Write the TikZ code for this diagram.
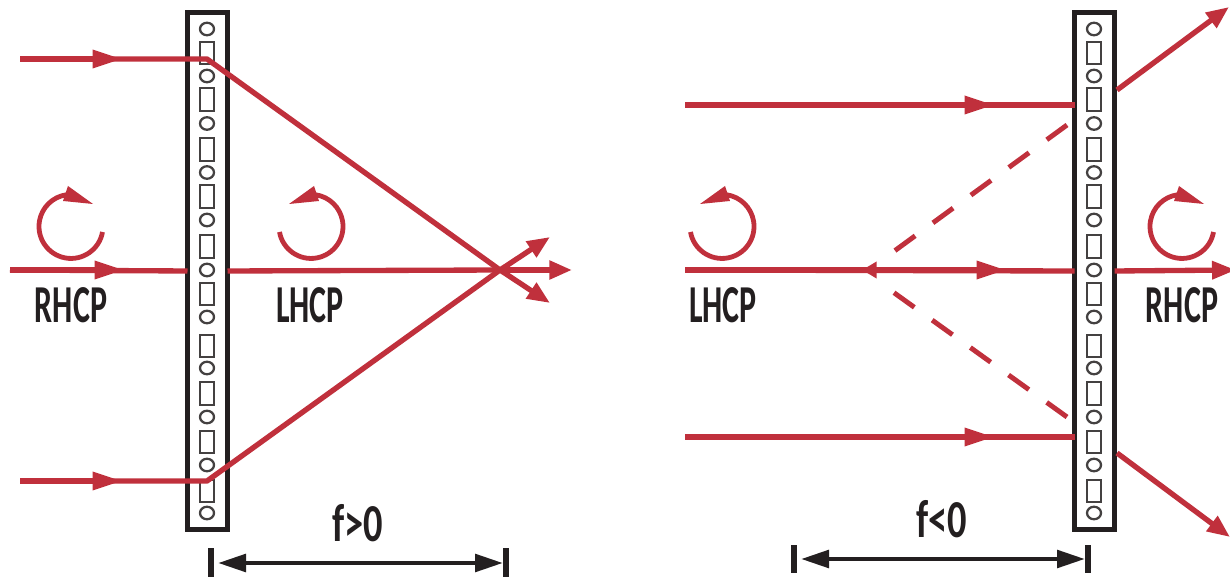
\documentclass[tikz,border=0pt]{standalone}
\usepackage{fontspec}
\setmainfont{Carlito}
\usetikzlibrary{arrows.meta,shapes.geometric}
\definecolor{rayred}{HTML}{C0303C}
\definecolor{ink}{HTML}{231F20}
\tikzset{
 ray/.style={draw=rayred,line width=4pt},
 thinray/.style={draw=rayred,line width=4pt},
 dashray/.style={draw=rayred,line width=3.7pt,dash pattern=on 18.75pt off 16.5pt},
 midtip/.style={-{Triangle[length=22pt,width=13pt,fill=rayred]}},
 smalltip/.style={-{Triangle[length=17pt,width=13.5pt,fill=rayred]}},
 plate/.style={draw=ink,line width=4pt,fill=white,rectangle,minimum width=30pt,minimum height=387.75pt,inner sep=0pt,outer sep=0pt},
 ringcell/.style={draw=ink!85,line width=1.7pt,ellipse,minimum width=10.5pt,minimum height=9.4pt,inner sep=0pt},
 barcell/.style={draw=ink!85,line width=1.7pt,rectangle,minimum width=10pt,minimum height=17pt,inner sep=0pt},
 spin/.style={draw=rayred,line width=3.6pt},
 spinhead/.style={fill=rayred,draw=none},
 hand/.style={text=ink,font=\bfseries\fontsize{40}{40}\selectfont,anchor=base,inner sep=0pt},
 dim/.style={draw=ink,line width=3.4pt,{Triangle[length=21pt,width=13pt,fill=ink]}-{Triangle[length=21pt,width=13pt,fill=ink]}},
 tick/.style={draw=ink,line width=4pt},
}
\newcommand{\hcp}[1]{\scalebox{0.6}[1]{#1}}
\newcommand{\flab}[1]{\scalebox{0.72}[1]{#1}}
\begin{document}
\begin{tikzpicture}[x=0.75pt,y=-0.75pt]
\useasboundingbox (0,0) rectangle (1230,580);
% ---- left lens
\coordinate (Lfocus) at (500,270);
\coordinate (Lin1) at (20,59);
\coordinate (Lin1t) at (122,59);
\coordinate (Lk1) at (207,59);
\coordinate (Lin2) at (10,270);
\coordinate (Lin2t) at (124,270);
\coordinate (Lin3) at (20,481);
\coordinate (Lin3t) at (122,481);
\coordinate (Lk3) at (207,481);
\coordinate (Lout) at (572,270);
\coordinate (Lup) at (550,237);
\coordinate (Ldn) at (550,303);
\node[plate] (pL) at (207.5,271) {};
\node[plate] (pR) at (1094.5,271) {};
\draw[ray] (Lin2) -- (pL.west);
\draw[ray] (pL.east) -- (Lfocus);
\draw[thinray,midtip] (Lin2) -- (Lin2t);
\foreach \n/\x in {L/207,R/1094}{
 \foreach \i/\y in {1/29,2/76,3/123.5,4/172.5,5/220,6/270,7/317,8/368,9/417,10/465,11/513}
  \node[ringcell] (\n c\i) at (\x,\y) {};
 \foreach \i/\y in {1/53,2/99.5,3/149.5,4/196.5,5/246.5,6/294,7/346,8/393.5,9/442,10/491}
  \node[barcell] (\n b\i) at (\x,\y) {};
}
\draw[ray,line join=round] (Lin1) -- (Lk1) -- (Lfocus);
\draw[ray,line join=round] (Lin3) -- (Lk3) -- (Lfocus);
\draw[thinray,midtip] (Lin1) -- (Lin1t);
\draw[thinray,midtip] (Lin3) -- (Lin3t);
\draw[thinray,smalltip] (Lfocus) -- (Lout);
\draw[thinray,smalltip] (Lfocus) -- (Lup);
\draw[thinray,smalltip] (Lfocus) -- (Ldn);
% spins left
\draw[spin] (102.5,232) arc[start angle=10,end angle=262,radius=32];
\fill[spinhead] (68,186) -- (93,204) -- (63,201) -- cycle;
\draw[spin] (279.5,232) arc[start angle=170,end angle=-82,radius=32];
\fill[spinhead] (314,186) -- (289,204) -- (319,201) -- cycle;
\node[hand] (tRHCPl) at (71,323) {\hcp{RHCP}};
\node[hand] (tLHCPl) at (310,323) {\hcp{LHCP}};
% dimension left
\coordinate (dL1a) at (211,548); \coordinate (dL1b) at (211,577);
\coordinate (dL2a) at (506,548); \coordinate (dL2b) at (506,577);
\coordinate (dLa) at (218,563); \coordinate (dLb) at (503,563);
\draw[tick] (dL1a) -- (dL1b);
\draw[tick] (dL2a) -- (dL2b);
\draw[dim] (dLa) -- (dLb);
\node[hand] (tfp) at (358,541) {\flab{f>0}};
% ---- right lens
\coordinate (Rin1) at (685,105);
\coordinate (Rin1t) at (994,105);
\coordinate (Rin2) at (685,270);
\coordinate (Rin2t) at (1006,270);
\coordinate (Rback) at (862,270);
\coordinate (Rbackb) at (878,270);
\coordinate (Rin3) at (685,437);
\coordinate (Rin3t) at (994,437);
\coordinate (Ro1a) at (1117,90);
\coordinate (Ro1b) at (1229,7);
\coordinate (Ro2b) at (1236,270);
\coordinate (Ro3a) at (1117,453);
\coordinate (Ro3b) at (1230,537);
\coordinate (Rd1a) at (1067,125);
\coordinate (Rd1b) at (893,252);
\coordinate (Rd3a) at (1067,417);
\coordinate (Rd3b) at (893,292);
\draw[ray] (Rin1) -- (Rin1 -| pR.west);
\draw[ray] (Rin2) -- (pR.west);
\draw[ray] (Rin3) -- (Rin3 -| pR.west);
\draw[thinray,midtip] (Rin1) -- (Rin1t);
\draw[thinray,midtip] (Rin2) -- (Rin2t);
\draw[thinray,midtip] (Rin3) -- (Rin3t);
\draw[thinray,-{Triangle[length=11pt,width=12pt,fill=rayred]}] (Rbackb) -- (Rback);
\draw[thinray,-{Triangle[length=18pt,width=13pt,fill=rayred]}] (pR.east) -- (Ro2b);
\draw[thinray,smalltip] (Ro1a) -- (Ro1b);
\draw[thinray,smalltip] (Ro3a) -- (Ro3b);
\draw[dashray] (Rd1a) -- (Rd1b);
\draw[dashray] (Rd3a) -- (Rd3b);
% spins right
\draw[spin] (690.5,232) arc[start angle=170,end angle=-82,radius=32];
\fill[spinhead] (725,186) -- (700,204) -- (730,201) -- cycle;
\draw[spin] (1213.5,232) arc[start angle=10,end angle=262,radius=32];
\fill[spinhead] (1179,186) -- (1204,204) -- (1174,201) -- cycle;
\node[hand] (tLHCPr) at (723,323) {\hcp{LHCP}};
\node[hand] (tRHCPr) at (1182,323) {\hcp{RHCP}};
% dimension right
\coordinate (dR1a) at (794,545); \coordinate (dR1b) at (794,573);
\coordinate (dR2a) at (1088,545); \coordinate (dR2b) at (1088,573);
\coordinate (dRa) at (801,559); \coordinate (dRb) at (1085,559);
\draw[tick] (dR1a) -- (dR1b);
\draw[tick] (dR2a) -- (dR2b);
\draw[dim] (dRa) -- (dRb);
\node[hand] (tfn) at (942,537) {\flab{f<0}};
\end{tikzpicture}
\end{document}
